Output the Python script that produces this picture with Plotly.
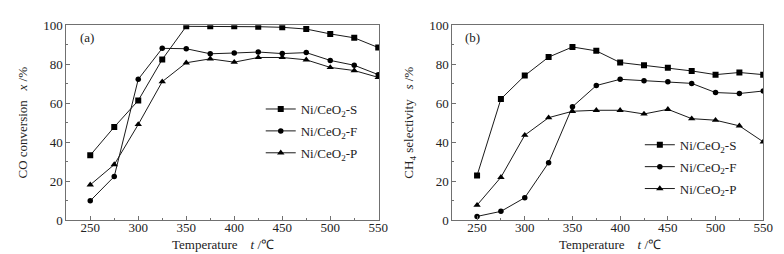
import plotly.graph_objects as go

temps = [250, 275, 300, 325, 350, 375, 400, 425, 450, 475, 500, 525, 550]
series_names = ["Ni/CeO<sub>2</sub>-S", "Ni/CeO<sub>2</sub>-F", "Ni/CeO<sub>2</sub>-P"]

co_S = [33.3, 47.8, 61.4, 82.5, 99.5, 99.5, 99.5, 99.3, 99.0, 98.1, 95.6, 93.6, 88.6]
co_F = [9.9, 22.4, 72.3, 88.2, 88.0, 85.4, 85.8, 86.3, 85.5, 86.0, 82.0, 79.5, 74.7]
co_P = [18.1, 28.5, 49.1, 71.1, 80.8, 82.8, 81.1, 83.5, 83.5, 82.3, 78.4, 76.8, 73.3]

ch4_S = [22.9, 62.2, 74.2, 83.7, 88.9, 86.9, 80.9, 79.5, 78.2, 76.6, 74.7, 75.8, 74.7]
ch4_F = [1.9, 4.5, 11.5, 29.5, 58.2, 69.1, 72.3, 71.6, 71.0, 70.2, 65.5, 65.0, 66.3]
ch4_P = [7.7, 22.0, 43.6, 52.6, 55.9, 56.4, 56.4, 54.5, 56.9, 52.1, 51.3, 48.4, 40.2]

symbols = ["square", "circle", "triangle-up"]
sizes = [6, 5.5, 6.5]
FONT = "Liberation Serif"
LINE = "#1a1a1a"
FRAME = "#707070"
TXT = "#222"
FS = 13
YGAP = "&nbsp;" * 3
XGAP = "&nbsp;" * 4

fig = go.Figure()
for i, (name, ys, sym, sz) in enumerate(zip(series_names, [co_S, co_F, co_P], symbols, sizes)):
    fig.add_trace(go.Scatter(x=temps, y=ys, name=name, mode="lines+markers",
                             line=dict(color=LINE, width=1),
                             marker=dict(symbol=sym, size=sz, color="black"),
                             legendgroup="a%d" % i,
                             xaxis="x", yaxis="y", legend="legend"))
for i, (name, ys, sym, sz) in enumerate(zip(series_names, [ch4_S, ch4_F, ch4_P], symbols, sizes)):
    fig.add_trace(go.Scatter(x=temps, y=ys, name=name, mode="lines+markers",
                             line=dict(color=LINE, width=1),
                             marker=dict(symbol=sym, size=sz, color="black"),
                             legendgroup="b%d" % i,
                             xaxis="x2", yaxis="y2", legend="legend2"))

ydom = [1 - 218 / 254, 1 - 11 / 254]
axis_common = dict(
    showline=True, linecolor=FRAME, linewidth=1, mirror=True,
    ticks="inside", ticklen=4, tickcolor=FRAME, showgrid=False, zeroline=False,
    tickfont=dict(family=FONT, size=FS, color=TXT),
    title_font=dict(family=FONT, size=FS, color=TXT),
)
xmin = dict(dtick=25, ticks="inside", ticklen=2, tickcolor=FRAME)
ymin = dict(dtick=10, ticks="inside", ticklen=2, tickcolor=FRAME)
xticks = [250, 300, 350, 400, 450, 500, 550]
xtitle = "Temperature" + XGAP + "<i>t</i> /℃"

legend_common = dict(xanchor="left", yanchor="top", bgcolor="rgba(0,0,0,0)",
                     font=dict(family=FONT, size=FS, color=TXT),
                     itemwidth=30, tracegroupgap=2, traceorder="grouped")

fig.update_layout(
    width=784, height=254,
    margin=dict(l=0, r=0, t=0, b=0),
    paper_bgcolor="white", plot_bgcolor="white",
    showlegend=True,
    xaxis=dict(domain=[59 / 784, 376 / 784], range=[225, 551], tickvals=xticks,
               minor=xmin, anchor="y", ticklabelstandoff=-5, **axis_common),
    yaxis=dict(domain=ydom, range=[0, 100], dtick=20, minor=ymin, anchor="x",
               title=dict(text="CO conversion" + YGAP + "<i>x</i> /%", standoff=12), **axis_common),
    xaxis2=dict(domain=[450 / 784, 765 / 784], range=[224, 550], tickvals=xticks,
                minor=xmin, anchor="y2", ticklabelstandoff=-5, **axis_common),
    yaxis2=dict(domain=ydom, range=[0, 100], dtick=20, minor=ymin, anchor="x2",
                title=dict(text="CH<sub>4</sub> selectivity" + YGAP + "<i>s</i> /%", standoff=12), **axis_common),
    legend=dict(x=256 / 784, y=1 - 84 / 254, **legend_common),
    legend2=dict(x=640 / 784, y=1 - 122 / 254, **legend_common),
    annotations=[
        dict(text="(a)", x=71 / 784, y=1 - 24 / 254, xref="paper", yref="paper", xanchor="left", yanchor="middle",
             showarrow=False, font=dict(family=FONT, size=FS, color=TXT)),
        dict(text="(b)", x=461 / 784, y=1 - 24 / 254, xref="paper", yref="paper", xanchor="left", yanchor="middle",
             showarrow=False, font=dict(family=FONT, size=FS, color=TXT)),
        dict(text=xtitle, x=218 / 784, y=1 - 244 / 254, xref="paper", yref="paper", xanchor="center", yanchor="middle",
             showarrow=False, font=dict(family=FONT, size=FS, color=TXT)),
        dict(text=xtitle, x=610 / 784, y=1 - 244 / 254, xref="paper", yref="paper", xanchor="center", yanchor="middle",
             showarrow=False, font=dict(family=FONT, size=FS, color=TXT)),
    ],
)

fig.write_html("out.html")
